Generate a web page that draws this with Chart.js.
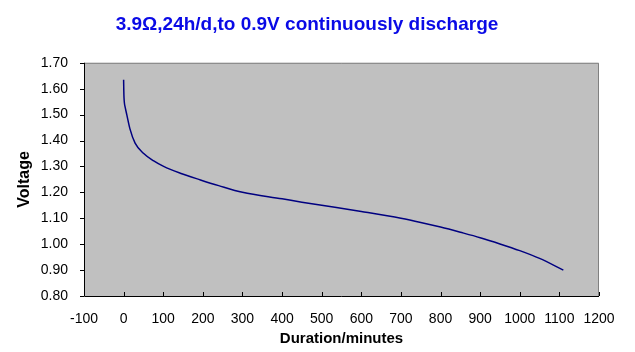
<!DOCTYPE html>
<html>
<head>
<meta charset="utf-8">
<script src="https://cdn.jsdelivr.net/npm/chart.js@4/dist/chart.umd.min.js"></script>
<style>
    html, body { margin: 0; padding: 0; background: #fff; }
</style>
</head>
<body>
<canvas id="dischargeChart" width="635" height="352"></canvas>
<script>
// discharge curve
const minutes = [0, 0.5, 1, 2, 4, 8, 16, 29, 50, 75, 101, 143, 194, 240, 300, 400, 450, 500, 600, 700, 750, 800, 850, 900, 950, 1000, 1050, 1110];
const voltage = [1.635, 1.59, 1.565, 1.545, 1.528, 1.50, 1.445, 1.39, 1.351, 1.322, 1.30, 1.274, 1.248, 1.226, 1.20, 1.175, 1.162, 1.15, 1.126, 1.10, 1.084, 1.066, 1.046, 1.025, 1.001, 0.975, 0.945, 0.90];

const xTicks = [-100, 0, 100, 200, 300, 400, 500, 600, 700, 800, 900, 1000, 1100, 1200];
const yTicks = [0.80, 0.90, 1.00, 1.10, 1.20, 1.30, 1.40, 1.50, 1.60, 1.70];

const fontName = '"Liberation Sans", Arial, sans-serif';

// grey plot area, frame and tick marks
const plotFrame = {
    id: 'plotFrame',
    beforeDraw(chart) {
        const a = chart.chartArea, ctx = chart.ctx;
        ctx.save();
        ctx.fillStyle = '#c0c0c0';
        ctx.fillRect(a.left, a.top, a.right - a.left, a.bottom - a.top);
        ctx.restore();
    },
    afterDraw(chart) {
        const a = chart.chartArea, ctx = chart.ctx;
        const xs = chart.scales.x, ys = chart.scales.y;
        ctx.save();
        ctx.lineWidth = 1;
        ctx.strokeStyle = '#808080';
        ctx.beginPath();
        ctx.moveTo(a.left, a.top + 0.5);
        ctx.lineTo(a.right - 0.5, a.top + 0.5);
        ctx.lineTo(a.right - 0.5, a.bottom);
        ctx.stroke();

        ctx.strokeStyle = '#000';
        ctx.beginPath();
        ctx.moveTo(a.left + 0.5, a.top);
        ctx.lineTo(a.left + 0.5, a.bottom + 0.5);
        ctx.lineTo(a.right, a.bottom + 0.5);
        xTicks.forEach(v => {
            let px = Math.round(xs.getPixelForValue(v)) + 0.5;
            ctx.moveTo(px, a.bottom);
            ctx.lineTo(px, a.bottom - 4);
        });
        yTicks.forEach(v => {
            let py = Math.round(ys.getPixelForValue(v)) + 0.5;
            ctx.moveTo(a.left, py);
            ctx.lineTo(a.left - 4, py);
        });
        ctx.stroke();
        ctx.restore();
    }
};

new Chart(document.getElementById('dischargeChart'), {
    type: 'line',
    data: {
        datasets: [{
            data: minutes.map((m, i) => ({ x: m, y: voltage[i] })),
            borderColor: '#000080',
            borderWidth: 1.5,
            pointRadius: 0,
            cubicInterpolationMode: 'monotone',
            fill: false
        }]
    },
    options: {
        responsive: false,
        animation: false,
        devicePixelRatio: 1,
        layout: { padding: { left: 15, right: 36, top: 0, bottom: 4 } },
        plugins: {
            legend: { display: false },
            tooltip: { enabled: false },
            title: {
                display: true,
                text: '3.9Ω,24h/d,to 0.9V continuously discharge',
                color: '#0a0ae6',
                font: { family: fontName, size: 19, weight: 'bold' },
                padding: { top: 13, bottom: 27 }
            }
        },
        scales: {
            x: {
                type: 'linear',
                min: -100,
                max: 1200,
                afterBuildTicks: s => { s.ticks = xTicks.map(v => ({ value: v })); },
                afterFit: s => { s.height = 52; },
                grid: { display: false, tickLength: 0 },
                border: { display: false },
                ticks: {
                    color: '#000',
                    padding: 15,
                    maxRotation: 0,
                    autoSkip: false,
                    font: { family: fontName, size: 14 },
                    callback: v => String(v)
                },
                title: {
                    display: true,
                    text: 'Duration/minutes',
                    color: '#000',
                    font: { family: fontName, size: 15, weight: 'bold' },
                    padding: { top: 0, bottom: 0 }
                }
            },
            y: {
                type: 'linear',
                min: 0.8,
                max: 1.7,
                afterBuildTicks: s => { s.ticks = yTicks.map(v => ({ value: v })); },
                afterFit: s => { s.width = 69; },
                grid: { display: false, tickLength: 0 },
                border: { display: false },
                ticks: {
                    color: '#000',
                    padding: 16,
                    autoSkip: false,
                    font: { family: fontName, size: 14 },
                    callback: v => Number(v).toFixed(2)
                },
                title: {
                    display: true,
                    text: 'Voltage',
                    color: '#000',
                    font: { family: fontName, size: 16, weight: 'bold' },
                    padding: { top: 0, bottom: 0 }
                }
            }
        }
    },
    plugins: [plotFrame]
});
</script>
</body>
</html>
